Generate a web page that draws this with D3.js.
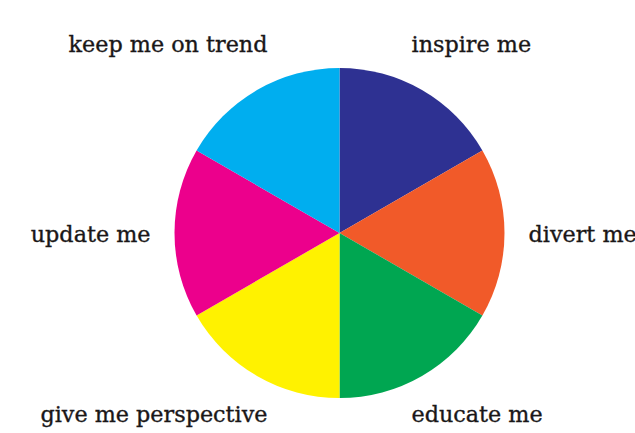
<!DOCTYPE html>
<html>
<head>
<meta charset="utf-8">
<script src="https://cdn.jsdelivr.net/npm/d3@7"></script>
<style>
html,body{margin:0;padding:0;background:#fff;overflow:hidden;}
text{font-family:"DejaVu Serif",serif;font-size:22.3px;fill:#1a1718;stroke:#1a1718;stroke-width:0.35px;}
</style>
</head>
<body>
<svg id="chart" width="635" height="433"></svg>
<script>
const categories = ["inspire me","divert me","educate me","give me perspective","update me","keep me on trend"];
const values = [1,1,1,1,1,1];
const colors = ["#2e3192","#f15a29","#00a651","#fff200","#ec008c","#00aeef"];

const svg = d3.select("#chart");
const cx = 339.5, cy = 233, r = 165;
const g = svg.append("g").attr("transform", `translate(${cx},${cy})`);

const pie = d3.pie().sort(null).value(d => d.v);
const data = pie(categories.map((c,i)=>({c, v: values[i]})));
const arc = d3.arc().innerRadius(0).outerRadius(r);
const color = d3.scaleOrdinal().domain(categories).range(colors);

g.selectAll("path").data(data).join("path")
  .attr("d", arc)
  .attr("fill", d => color(d.data.c));

// label placement derived from slice mid-angle
const xOff = d3.scaleLinear().domain([0.5,1]).range([72,189]);
const yBase = d3.scaleLinear().domain([-0.866,0,0.866]).range([189,9,-181]);
g.selectAll("text").data(data).join("text")
  .each(function(d){
    const a = (d.startAngle + d.endAngle)/2;
    const s = Math.sin(a), c = Math.cos(a);
    d3.select(this)
      .attr("x", Math.sign(s) * xOff(Math.abs(s)))
      .attr("y", yBase(c))
      .attr("text-anchor", s > 0 ? "start" : "end")
      .text(d.data.c);
  });
</script>
</body>
</html>
